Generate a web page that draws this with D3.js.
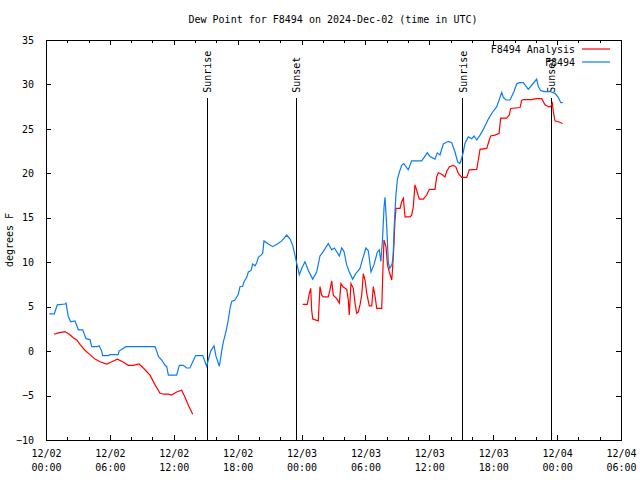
<!DOCTYPE html>
<meta charset="utf-8">
<script src="https://d3js.org/d3.v7.min.js"></script>
<style>
  body { margin: 0; background: #fff; }
  text { font-family: "DejaVu Sans Mono", monospace; font-size: 10px; fill: #000; }
</style>
<svg id="chart" width="640" height="480"></svg>
<script>
// hours after 2024-12-02 00:00 UTC
const obsHours = [0.31, 0.78, 1.06, 1.78, 1.88, 2.09, 2.32, 2.72, 2.88, 3.03, 3.45, 3.76, 4.13, 4.29, 4.82, 5.0, 5.23, 5.32, 5.85, 6.01,
  6.79, 6.86, 7.51, 10.24, 10.4, 10.55, 10.87, 11.18, 11.34, 11.49, 12.27, 12.52, 12.89, 13.21, 13.52, 13.78, 14.06, 14.72, 14.93, 15.09,
  15.24, 15.47, 15.78, 15.97, 16.28, 16.5, 16.65, 16.9, 17.12, 17.28, 17.44, 17.75, 18.06, 18.22, 18.47, 18.6, 18.85, 19.0, 19.25, 19.41,
  19.63, 19.79, 19.94, 20.19, 20.35, 20.47, 20.88, 21.29, 21.72, 22.14, 22.61, 22.92, 23.17, 23.38, 23.54, 23.79, 24.01, 24.32, 24.63, 25.05,
  25.42, 25.73, 26.04, 26.51, 26.83, 27.08, 27.55, 27.77, 27.99, 28.24, 28.48, 28.8, 29.11, 29.49, 29.74, 30.05, 30.27, 30.52, 30.8, 31.11,
  31.3, 31.45, 31.6, 31.75, 31.84, 32.0, 32.15, 32.3, 32.5, 32.6, 32.7, 32.85, 33.0, 33.2, 33.4, 33.6, 34.02, 34.34, 35.28, 35.81,
  36.06, 36.53, 36.75, 37.0, 37.31, 37.78, 38.1, 38.41, 38.66, 38.88, 39.04, 39.19, 39.35, 39.66, 39.98, 40.2, 40.45, 40.76, 41.07, 41.54,
  41.95, 42.33, 42.64, 42.8, 42.95, 43.2, 43.58, 43.95, 44.2, 44.45, 44.83, 45.29, 45.71, 46.08, 46.23, 46.46, 46.86, 47.33, 47.8, 48.11,
  48.34, 48.52];
const obsDew = [4.2, 4.2, 5.2, 5.3, 5.4, 3.9, 3.3, 3.4, 2.9, 2.4, 2.4, 1.4, 1.3, 0.5, 0.5, 0.6, 0.0, -0.5, -0.5, -0.4,
  -0.4, 0.0, 0.5, 0.5, 0.0, -0.6, -1.0, -1.6, -1.75, -2.7, -2.7, -1.6, -1.6, -1.9, -1.9, -1.2, -0.5, -0.5, -1.2, -1.7,
  -1.0, 0.0, 0.6, -0.6, -1.7, 0.0, 1.0, 2.2, 3.5, 4.8, 5.6, 5.75, 6.4, 7.25, 7.3, 7.8, 8.3, 8.9, 9.05, 9.8,
  9.6, 9.95, 10.55, 10.8, 11.0, 12.4, 12.05, 11.75, 12.05, 12.4, 13.06, 12.6, 11.9, 10.8, 9.9, 8.6, 9.3, 10.06, 9.1, 8.1,
  8.9, 10.7, 11.2, 12.1, 11.4, 11.6, 10.7, 11.6, 11.2, 9.7, 8.9, 8.1, 8.75, 9.3, 10.4, 11.6, 11.3, 8.9, 9.7, 11.1,
  11.4, 10.1, 12.5, 16.3, 17.3, 14.0, 9.9, 9.3, 9.8, 10.7, 14.0, 17.4, 19.3, 20.2, 20.9, 21.1, 20.4, 21.4, 21.4, 22.3,
  21.9, 21.6, 22.3, 22.06, 23.3, 23.6, 23.45, 22.4, 21.3, 21.1, 21.7, 22.4, 23.4, 24.1, 23.9, 24.2, 23.75, 24.3, 24.94, 26.1,
  26.9, 27.5, 28.55, 29.1, 28.55, 28.25, 28.25, 29.2, 30.05, 30.2, 30.2, 29.45, 30.05, 30.6, 29.8, 29.3, 29.2, 29.2, 29.0, 28.55,
  27.95, 27.95];

// analysis; null marks the gap in the series
const anaHours = [0.75, 1.16, 1.78, 2.19, 2.56, 2.88, 3.19, 3.66, 4.13, 4.6, 5.07, 5.7, 6.17, 6.7, 7.2, 7.73, 8.2, 8.73, 9.14, 9.77,
  10.24, 10.71, 11.08, 11.49, 11.8, 12.27, 12.74, 12.96, 13.36, 13.78, 19.0,
  24.11, 24.54, 24.73, 24.86, 24.95, 25.05, 25.57, 25.73, 25.89, 26.04, 26.51, 26.67, 26.83, 26.98, 27.3, 27.55, 27.7, 27.92, 28.24, 28.39,
  28.48, 28.64, 28.86, 29.02, 29.18, 29.33, 29.49, 29.65, 29.8, 29.96, 30.12, 30.36, 30.59, 30.74, 30.9, 31.06, 31.53, 31.62, 31.74, 31.93,
  32.07, 32.24, 32.47, 32.56, 32.68, 32.77, 32.87, 33.25, 33.4, 33.56, 33.72, 34.19, 34.34, 34.49, 34.65, 34.81, 35.06, 35.43, 35.75, 36.0,
  36.53, 36.69, 36.84, 37.16, 37.47, 37.63, 37.88, 38.25, 38.5, 38.72, 39.04, 39.51, 39.75, 40.45, 40.6, 40.76, 41.39, 41.63, 41.76, 42.17,
  42.55, 42.7, 43.26, 43.51, 43.64, 44.52, 44.67, 44.83, 45.61, 46.08, 46.55, 46.86, 47.18, 47.4, 47.55, 47.65, 47.8, 48.11, 48.52];
const anaDew = [1.9, 2.05, 2.2, 1.9, 1.5, 1.25, 0.76, 0.1, -0.4, -0.9, -1.2, -1.45, -1.2, -0.9, -1.2, -1.6, -1.6, -1.45, -1.9, -2.7,
  -3.8, -4.75, -4.85, -4.85, -4.94, -4.6, -4.4, -4.94, -6.06, -7.1, null,
  5.26, 5.26, 6.5, 7.06, 4.6, 3.6, 3.4, 7.25, 6.3, 6.1, 6.1, 6.9, 7.9, 6.3, 5.9, 5.4, 7.6, 7.2, 6.95, 5.75,
  4.06, 7.6, 7.06, 5.4, 4.25, 4.4, 5.2, 6.3, 8.7, 8.0, 6.5, 5.1, 5.1, 7.25, 6.2, 4.8, 4.8, 8.4, 12.5, 11.75,
  9.7, 8.9, 8.0, 9.5, 12.1, 14.7, 16.06, 16.06, 16.8, 17.2, 15.1, 15.1, 15.3, 16.2, 18.7, 18.1, 17.1, 17.1, 17.56, 18.2,
  18.2, 19.6, 20.06, 19.9, 19.6, 20.2, 20.75, 20.9, 20.7, 20.0, 19.55, 19.55, 20.4, 20.45, 21.5, 22.7, 22.8, 23.75, 24.2, 24.3,
  24.5, 26.2, 26.2, 26.56, 27.3, 27.4, 28.2, 28.3, 28.3, 28.4, 28.4, 27.7, 27.5, 27.5, 27.9, 26.9, 25.9, 25.8, 25.6];

const sunHours = [15.12, 23.48, 39.16, 47.43];
const sunNames = ["Sunrise", "Sunset", "Sunrise", "Sunset"];

const seriesNames = ["F8494 Analysis", "F8494"];
const seriesColors = ["#ff0000", "#0a7cf4"];

const svg = d3.select("#chart");
const t0 = Date.UTC(2024, 11, 2, 0);
const toDate = h => new Date(t0 + h * 3600e3);

const plotL = 46, plotR = 621, plotT = 40, plotB = 440;
const x = d3.scaleUtc().domain([toDate(0), toDate(54)]).range([plotL, plotR]);
const y = d3.scaleLinear().domain([-10, 35]).range([plotB, plotT]);

// frame
svg.append("rect")
  .attr("x", plotL).attr("y", plotT).attr("width", plotR - plotL).attr("height", plotB - plotT)
  .attr("fill", "none").attr("stroke", "#000").attr("shape-rendering", "crispEdges");

function styleAxis(g) {
  g.select(".domain").remove();
  g.selectAll("line").attr("stroke", "#000").attr("shape-rendering", "crispEdges");
  g.selectAll("text").attr("font-family", null).attr("font-size", null).attr("fill", null);
  g.attr("font-family", null).attr("font-size", null);
}

const majorX = d3.utcHour.every(6), minorX = d3.utcHour.every(2);

svg.append("g").attr("transform", `translate(0,${plotB})`)
  .call(d3.axisBottom(x).ticks(minorX).tickSize(-3).tickFormat(""))
  .call(styleAxis);
svg.append("g").attr("transform", `translate(0,${plotT})`)
  .call(d3.axisTop(x).ticks(minorX).tickSize(-3).tickFormat(""))
  .call(styleAxis);
svg.append("g").attr("transform", `translate(0,${plotT})`)
  .call(d3.axisTop(x).ticks(majorX).tickSize(-5).tickFormat(""))
  .call(styleAxis);

const xb = svg.append("g").attr("transform", `translate(0,${plotB})`)
  .call(d3.axisBottom(x).ticks(majorX).tickSize(-5).tickFormat(""))
  .call(styleAxis);
xb.selectAll(".tick text").attr("y", 10).attr("dy", null).each(function(d) {
  const t = d3.select(this);
  t.append("tspan").attr("x", 0).attr("dy", "0.71em").text(d3.utcFormat("%m/%d")(d));
  t.append("tspan").attr("x", 0).attr("dy", "1.35em").text(d3.utcFormat("%H:%M")(d));
});

svg.append("g").attr("transform", `translate(${plotL},0)`)
  .call(d3.axisLeft(y).ticks(9).tickSize(-5).tickPadding(12))
  .call(styleAxis);
svg.append("g").attr("transform", `translate(${plotR},0)`)
  .call(d3.axisRight(y).ticks(9).tickSize(-5).tickFormat(""))
  .call(styleAxis);

// titles
svg.append("text").attr("x", 333).attr("y", 23).attr("text-anchor", "middle")
  .text("Dew Point for F8494 on 2024-Dec-02 (time in UTC)");
svg.append("text").attr("transform", "translate(13,240) rotate(-90)").attr("text-anchor", "middle")
  .text("degrees F");

// sunrise / sunset markers
const sun = svg.append("g");
sun.selectAll("line").data(sunHours).join("line")
  .attr("x1", d => x(toDate(d))).attr("x2", d => x(toDate(d)))
  .attr("y1", y(28.5)).attr("y2", plotB)
  .attr("stroke", "#000").attr("shape-rendering", "crispEdges");
sun.selectAll("text").data(sunHours).join("text")
  .attr("transform", d => `translate(${x(toDate(d)) + 4},${y(28.5) - 5}) rotate(-90)`)
  .text((d, i) => sunNames[i]);

// data lines
const line = d3.line()
  .defined(d => d.v !== null)
  .x(d => x(toDate(d.h)))
  .y(d => y(d.v));

const anaData = anaHours.map((h, i) => ({ h, v: anaDew[i] }));
const obsData = obsHours.map((h, i) => ({ h, v: obsDew[i] }));

svg.append("path").datum(anaData)
  .attr("fill", "none").attr("stroke", seriesColors[0]).attr("stroke-width", 1.2)
  .attr("d", line);
svg.append("path").datum(obsData)
  .attr("fill", "none").attr("stroke", seriesColors[1]).attr("stroke-width", 1.2)
  .attr("d", line);

// legend
const legend = svg.append("g");
seriesNames.forEach((name, i) => {
  const ly = 49 + i * 13;
  legend.append("text").attr("x", 575).attr("y", ly).attr("dy", "0.35em")
    .attr("text-anchor", "end").text(name);
  legend.append("line").attr("x1", 582).attr("x2", 610).attr("y1", ly).attr("y2", ly)
    .attr("stroke", seriesColors[i]).attr("stroke-width", 1.2);
});
</script>
